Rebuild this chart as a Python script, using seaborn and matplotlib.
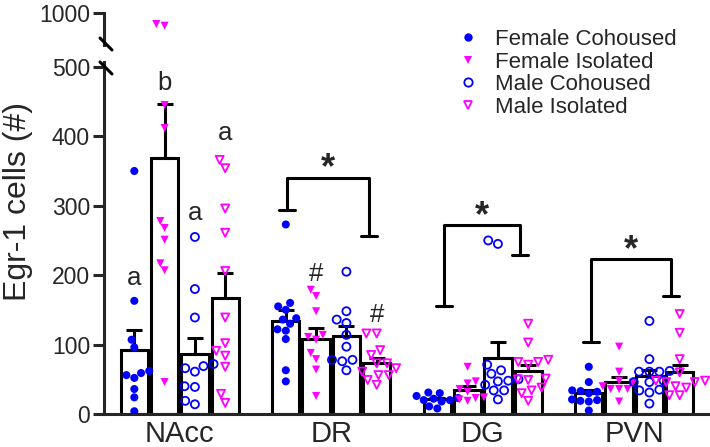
import matplotlib
matplotlib.use("Agg")
import matplotlib.pyplot as plt
import seaborn as sns
import pandas as pd
import numpy as np
from matplotlib.lines import Line2D

sns.set_style("ticks")
plt.rcParams["font.family"] = ["Liberation Sans", "DejaVu Sans"]

regions = ["NAcc", "DR", "DG", "PVN"]
groups = ["Female Cohoused", "Female Isolated", "Male Cohoused", "Male Isolated"]
colors = ["#0000FF", "#FF00FF", "#0000FF", "#FF00FF"]
markers = ["o", "v", "o", "v"]
filled = [True, True, False, False]

# Egr-1 cell counts per animal
nacc_fc = [350, 163, 107, 96, 62, 59, 56, 52, 36, 24, 4]
nacc_fi = [800, 770, 445, 412, 278, 268, 251, 217, 207, 46]
nacc_mc = [255, 180, 139, 72, 69, 66, 61, 40, 39, 19, 14]
nacc_mi = [366, 354, 296, 261, 206, 139, 102, 91, 84, 68, 29, 16]
dr_fc = [273, 160, 155, 150, 138, 136, 130, 122, 120, 108, 63, 47]
dr_fi = [179, 170, 148, 114, 111, 107, 88, 79, 64, 26]
dr_mc = [205, 148, 136, 131, 114, 97, 78, 78, 76, 63]
dr_mi = [116, 116, 92, 85, 73, 73, 66, 61, 56, 56, 49, 42]
dg_fc = [31, 30, 26, 23, 22, 20, 20, 18, 11, 8]
dg_fi = [68, 47, 44, 36, 32, 24, 23, 21, 19]
dg_mc = [250, 245, 71, 63, 58, 50, 48, 47, 42, 34, 34, 21]
dg_mi = [130, 103, 78, 75, 75, 71, 51, 50, 49, 38, 34, 30, 19]
pvn_fc = [68, 46, 34, 33, 32, 30, 21, 20, 19, 18, 5]
pvn_fi = [97, 61, 48, 45, 40, 36, 36, 36, 18]
pvn_mc = [134, 79, 62, 61, 61, 61, 48, 46, 46, 35, 34, 31, 15]
pvn_mi = [144, 117, 79, 60, 48, 48, 46, 46, 40, 38, 27, 27]

# group letters / # marks above bars
letter_text = ["a", "b", "a", "a", "#", "#"]
letter_region = [0, 0, 0, 0, 1, 1]
letter_group = [0, 1, 2, 3, 1, 3]
letter_y = [186, 467, 280, 394, 191, 133]

# significance brackets (x in category units, y in cells)
bracket_left = [0.71, 1.743, 2.712]
bracket_right = [1.25, 2.243, 3.241]
bracket_top = [340, 272, 223]
bracket_left_end = [294, 156, 104]
bracket_right_end = [257, 229, 170]

series = [nacc_fc, nacc_fi, nacc_mc, nacc_mi, dr_fc, dr_fi, dr_mc, dr_mi,
          dg_fc, dg_fi, dg_mc, dg_mi, pvn_fc, pvn_fi, pvn_mc, pvn_mi]
rows = []
for i, vals in enumerate(series):
    for v in vals:
        rows.append((regions[i // 4], groups[i % 4], v))
df = pd.DataFrame(rows, columns=["region", "group", "cells"])
palette = dict(zip(groups, colors))

fig = plt.figure(figsize=(7.1, 4.47), dpi=100)
ax = fig.add_axes([104 / 710, 33 / 447, 606 / 710, 352 / 447])
ax_top = fig.add_axes([104 / 710, 402 / 447, 606 / 710, 32 / 447], sharex=ax)

lw = 2.2
sns.barplot(data=df, x="region", y="cells", hue="group", order=regions, hue_order=groups,
            palette=["white"] * 4, edgecolor="black", linewidth=lw, errorbar=None,
            gap=0.1, legend=False, ax=ax)

# mean + SEM, upward only
stats = df.groupby(["region", "group"], sort=False)["cells"].agg(["mean", "sem"]).reset_index()
stats["x"] = stats["region"].map(regions.index) + (stats["group"].map(groups.index) - 1.5) * 0.2
ax.errorbar(stats["x"], stats["mean"], yerr=[np.zeros(len(stats)), stats["sem"]], fmt="none",
            ecolor="black", elinewidth=lw, capsize=6, capthick=lw, zorder=2)

for g, m, f in zip(groups, markers, filled):
    sub = df[df["group"] == g]
    for a, d in ((ax, sub), (ax_top, sub[sub["cells"] > 500])):
        if d.empty:
            continue
        n0 = len(a.collections)
        sns.swarmplot(data=d, x="region", y="cells", hue="group", order=regions,
                      hue_order=groups, dodge=True, palette=palette, marker=m, size=5.8,
                      linewidth=0 if f else 1.3, legend=False, ax=a, zorder=3)
        if not f:
            for c in a.collections[n0:]:
                c.set_facecolor("none")
                c.set_edgecolor(palette[g])

for t, r, gi, y in zip(letter_text, letter_region, letter_group, letter_y):
    ax.text(r + (gi - 1.5) * 0.2, y, t, ha="center", va="baseline", fontsize=18.5)

cap = 0.053
for xl, xr, top, yl, yr in zip(bracket_left, bracket_right, bracket_top,
                               bracket_left_end, bracket_right_end):
    ax.plot([xl, xl, xr, xr], [yl, top, top, yr], color="black", lw=lw, solid_capstyle="butt")
    ax.plot([xl - cap, xl + cap], [yl, yl], color="black", lw=lw)
    ax.plot([xr - cap, xr + cap], [yr, yr], color="black", lw=lw)
    ax.text((xl + xr) / 2, top - 1, "*", ha="center", va="baseline", fontsize=26,
            fontweight="bold")

ax.set_ylim(0, 507)
ax.set_xlim(-0.5, 3.5)
ax.set_yticks([0, 100, 200, 300, 400, 500])
ax.set_xlabel("")
ax.set_ylabel("Egr-1 cells (#)", fontsize=23)
ax.yaxis.set_label_coords(-0.117, 0.605)
sns.despine(ax=ax)
for s in ("left", "bottom"):
    ax.spines[s].set_linewidth(lw)
ax.tick_params(axis="y", length=8, width=lw, labelsize=16.5, pad=2)
ax.tick_params(axis="x", length=0, labelsize=21, pad=4)

ax_top.set_ylim(420, 1000)
ax_top.set_yticks([1000])
ax_top.set_xlabel("")
ax_top.set_ylabel("")
for s in ("top", "right", "bottom"):
    ax_top.spines[s].set_visible(False)
ax_top.spines["left"].set_linewidth(lw)
ax_top.tick_params(axis="y", length=8, width=lw, labelsize=16.5, pad=2)
ax_top.tick_params(axis="x", bottom=False, labelbottom=False)
ax_top.patch.set_visible(False)

# axis break marks
for y0, y1 in ((38, 50), (62, 74)):
    fig.add_artist(Line2D([100 / 710, 112 / 710], [1 - y0 / 447, 1 - y1 / 447],
                          color="black", lw=lw))

handles = [Line2D([], [], marker=m, linestyle="none", markersize=6,
                  markerfacecolor=c if f else "none", markeredgecolor=c,
                  markeredgewidth=0 if f else 1.3, label=g)
           for g, c, m, f in zip(groups, colors, markers, filled)]
ax.legend(handles=handles, loc="upper left", bbox_to_anchor=(457 / 710, 1 - 29 / 447),
          bbox_transform=fig.transFigure, frameon=False, fontsize=16, handlelength=1.0,
          handletextpad=0.7, labelspacing=0.07, borderpad=0, borderaxespad=0)

fig.savefig("out.png", dpi=100)
